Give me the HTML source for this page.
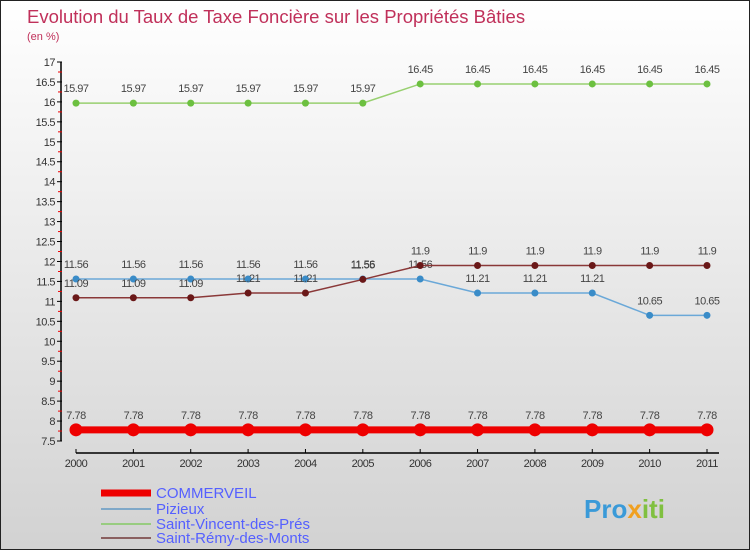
<!DOCTYPE html>
<html><head><meta charset="utf-8"><style>
body{margin:0;width:750px;height:550px;overflow:hidden;font-family:"Liberation Sans",sans-serif}
#c{position:absolute;left:0;top:0;width:748px;height:548px;border:1px solid #222;background:linear-gradient(#ffffff,#d2d2d2)}
</style></head><body>
<div id="c">
<svg id="s" width="748" height="548" xmlns="http://www.w3.org/2000/svg">
<text x="26" y="22" font-size="18.5" fill="#c0305a">Evolution du Taux de Taxe Foncière sur les Propriétés Bâties</text>
<text x="26" y="39" font-size="11" fill="#c0305a">(en %)</text>
<g id="ax"></g><g id="pl"></g>
<g>
<line x1="100" y1="492" x2="150" y2="492" stroke="#e00" stroke-width="7"/>
<text x="155" y="497" font-size="15" fill="#5560ff">COMMERVEIL</text>
<line x1="100" y1="508" x2="150" y2="508" stroke="#7fa8c8" stroke-width="2"/>
<text x="155" y="513" font-size="15" fill="#5560ff">Pizieux</text>
<line x1="100" y1="523" x2="150" y2="523" stroke="#98cc80" stroke-width="2"/>
<text x="155" y="528" font-size="15" fill="#5560ff">Saint-Vincent-des-Prés</text>
<line x1="100" y1="537" x2="150" y2="537" stroke="#8a6060" stroke-width="2"/>
<text x="155" y="542" font-size="15" fill="#5560ff">Saint-Rémy-des-Monts</text>
</g>
<text x="583" y="517" font-size="26" font-weight="bold" fill="#3a9ad8">Pro<tspan fill="#f0a020">x</tspan><tspan fill="#80c040">iti</tspan></text>
</svg></div>
<script>
const years=[2000,2001,2002,2003,2004,2005,2006,2007,2008,2009,2010,2011];
const commerveil=[7.78,7.78,7.78,7.78,7.78,7.78,7.78,7.78,7.78,7.78,7.78,7.78];
const pizieux=[11.56,11.56,11.56,11.56,11.56,11.56,11.56,11.21,11.21,11.21,10.65,10.65];
const stVincent=[15.97,15.97,15.97,15.97,15.97,15.97,16.45,16.45,16.45,16.45,16.45,16.45];
const stRemy=[11.09,11.09,11.09,11.21,11.21,11.55,11.9,11.9,11.9,11.9,11.9,11.9];
const yTicks=[7.5,8,8.5,9,9.5,10,10.5,11,11.5,12,12.5,13,13.5,14,14.5,15,15.5,16,16.5,17];
const NS="http://www.w3.org/2000/svg";
const X=i=>75+i*(706-75)/(years.length-1);
const Y=v=>440-(v-7.5)*(440-61)/9.5;
function mk(t,a,p){const e=document.createElementNS(NS,t);for(const k in a)e.setAttribute(k,a[k]);p.appendChild(e);return e;}
const ax=document.getElementById('ax'),pl=document.getElementById('pl');
let l=mk('line',{x1:60,y1:Y(17),x2:60,y2:Y(7.5),stroke:'#000','stroke-width':1.5},ax);


yTicks.forEach((v,k)=>{
 mk('line',{x1:56,y1:Y(v),x2:61,y2:Y(v),stroke:'#000'},ax);
 if(k>0) mk('line',{x1:57,y1:Y(v)+10,x2:61,y2:Y(v)+10,stroke:'#e00'},ax);
 const t=mk('text',{x:54,y:Y(v)+4,'font-size':11,fill:'#333','text-anchor':'end','letter-spacing':'-0.5'},ax);t.textContent=v;
 
 
});
l=mk('line',{x1:X(0),y1:452,x2:X(11)+12,y2:452,stroke:'#000','stroke-width':1.5},ax);


years.forEach((y,i)=>{
 mk('line',{x1:X(i),y1:448,x2:X(i),y2:452,stroke:'#000'},ax);
 const t=mk('text',{x:X(i),y:466,'font-size':11,fill:'#333','text-anchor':'middle','letter-spacing':'-0.5'},ax);t.textContent=y;
 
 
});
function series(data,color,dot,w,r,name){
 const g=mk('g',{},pl);
 
 
 mk('polyline',{points:data.map((v,i)=>X(i)+','+Y(v)).join(' '),fill:'none',stroke:color,'stroke-width':w},g);
 data.forEach((v,i)=>{
  const c=mk('circle',{cx:X(i),cy:Y(v),r:r,fill:dot},g);
  
  
  const t=mk('text',{x:X(i),y:Y(v)-11,'font-size':11,fill:'#444','text-anchor':'middle','letter-spacing':'-0.5'},g);t.textContent=v;
 });
}
series(stVincent,'#98d070','#6cc040',1.5,3.5,'series-saint-vincent');
series(pizieux,'#6aa8d8','#3a8cc8',1.5,3.5,'series-pizieux');
series(stRemy,'#8a3838','#6a1818',1.5,3.5,'series-saint-remy');
series(commerveil,'#e00','#e00',7,6.5,'series-commerveil');
</script>
</body></html>
